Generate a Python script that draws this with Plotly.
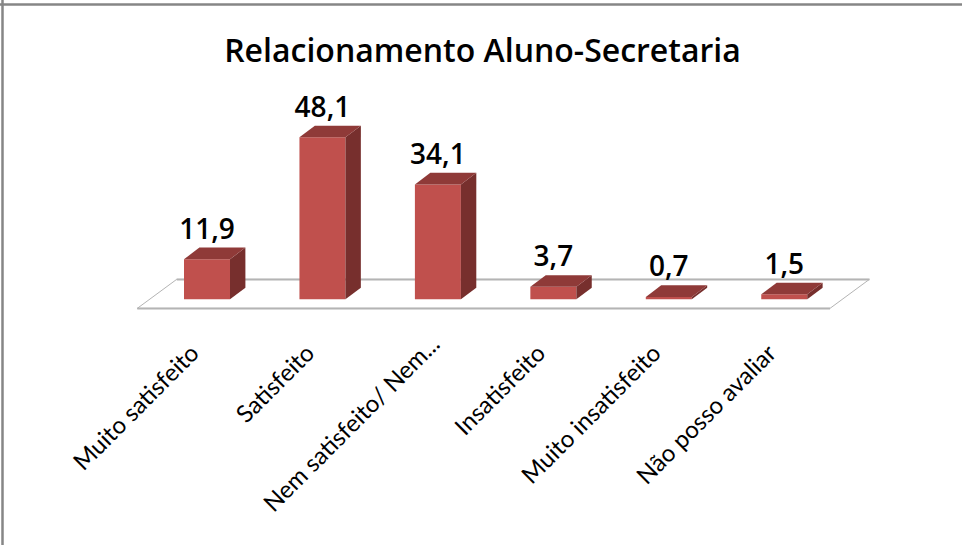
import plotly.graph_objects as go

title = "Relacionamento Aluno-Secretaria"
categories = ["Muito satisfeito", "Satisfeito", "Nem satisfeito/ Nem...", "Insatisfeito", "Muito insatisfeito", "Não posso avaliar"]
values = [11.9, 48.1, 34.1, 3.7, 0.7, 1.5]
labels = ["11,9", "48,1", "34,1", "3,7", "0,7", "1,5"]

W, H = 962, 545
PX_X = 115.45      # pixels per category
PX_Y = 3.368       # pixels per value unit
X0 = 207.0         # pixel of first category
Y0 = 299.3         # pixel of value 0
PLOT_H = 315
BAR_W = 46 / PX_X
DX = 15.4 / PX_X   # bar depth
DY = 11.6 / PX_Y
FRONT = -2.7       # floor front edge, in value units below baseline
FLOOR_DX = 39.4 / PX_X
FLOOR_DY = 29 / PX_Y
FLOOR_L, FLOOR_R = -0.604, 5.396

FRONT_C, TOP_C, SIDE_C = "#C0504D", "#8F3A38", "#772F2D"
GRID_C = "#B4B4B4"
LONG_LABEL = 2     # this label sits closer to the floor in the reference

fig = go.Figure()
xs = list(range(len(categories)))

fig.add_trace(go.Bar(x=xs, y=values, width=BAR_W, marker=dict(color=FRONT_C, line=dict(width=0)),
                     hoverinfo="skip"))

for i, v in zip(xs, values):
    l, r = i - BAR_W / 2, i + BAR_W / 2
    fig.add_trace(go.Scatter(x=[r, r + DX, r + DX, r, r], y=[0, DY, v + DY, v, 0], mode="lines",
                             fill="toself", fillcolor=SIDE_C, line=dict(width=0), hoverinfo="skip"))
    fig.add_trace(go.Scatter(x=[l, l + DX, r + DX, r, l], y=[v, v + DY, v + DY, v, v], mode="lines",
                             fill="toself", fillcolor=TOP_C, line=dict(width=0), hoverinfo="skip"))

fig.add_trace(go.Scatter(x=xs, y=[v + DY + 0.6 for v in values], mode="text", text=labels,
                         textposition="top center", cliponaxis=False,
                         textfont=dict(family="Open Sans", size=28, weight=600, color="#000000"), hoverinfo="skip"))

# invisible trace so the second tick axis is drawn
fig.add_trace(go.Scatter(x=[LONG_LABEL], y=[0], xaxis="x2", mode="markers", marker=dict(opacity=0), hoverinfo="skip"))

bx0, bx1 = FLOOR_L, FLOOR_R
tx0, tx1 = FLOOR_L + FLOOR_DX, FLOOR_R + FLOOR_DX
by, ty = FRONT, FRONT + FLOOR_DY
shapes = [
    dict(type="path", xref="x", yref="y", layer="below",
         path=f"M {bx0} {by} L {tx0} {ty} L {tx1} {ty} L {bx1} {by} Z",
         fillcolor="#FFFFFF", line=dict(color=GRID_C, width=1)),
    dict(type="line", xref="x", yref="y", layer="below", x0=bx0, x1=bx1, y0=by, y1=by,
         line=dict(color=GRID_C, width=2)),
    dict(type="line", xref="x", yref="y", layer="below", x0=tx0, x1=tx1, y0=ty, y1=ty,
         line=dict(color=GRID_C, width=2)),
    # outer frame: top and left edges only
    dict(type="line", xref="paper", yref="y", x0=0, x1=1, y0=(Y0 - 4.5) / PX_Y, y1=(Y0 - 4.5) / PX_Y,
         line=dict(color="#868686", width=2.5)),
    dict(type="line", xref="x", yref="paper", x0=(2.5 - X0) / PX_X, x1=(2.5 - X0) / PX_X,
         y0=1, y1=-(H - PLOT_H) / PLOT_H, line=dict(color="#868686", width=2.5)),
]

x_range = [-X0 / PX_X, (W - X0) / PX_X]
tick_font = dict(family="Lato", size=24, color="#000000")
main_ticks = [i for i in xs if i != LONG_LABEL]

fig.update_layout(
    width=W, height=H, autosize=False, showlegend=False,
    paper_bgcolor="#FFFFFF", plot_bgcolor="#FFFFFF",
    margin=dict(l=0, r=0, t=0, b=H - PLOT_H, pad=0),
    shapes=shapes,
    title=dict(text=title, x=482.5 / W, xanchor="center", xref="paper", y=1 - 51 / H, yanchor="middle", yref="container",
               font=dict(family="Open Sans", size=32, weight=600, color="#000000")),
    xaxis=dict(range=x_range, tickmode="array",
               tickvals=[i - 0.13 for i in main_ticks], ticktext=[categories[i] for i in main_ticks], tickangle=-45,
               ticks="outside", ticklen=13.5, tickcolor="rgba(0,0,0,0)", showgrid=False, zeroline=False, showline=False,
               tickfont=tick_font, automargin=False, fixedrange=True),
    xaxis2=dict(range=x_range, overlaying="x", anchor="y", side="bottom", tickmode="array",
                tickvals=[LONG_LABEL - 0.044], ticktext=[categories[LONG_LABEL]], tickangle=-45,
                ticks="outside", ticklen=4.5, tickcolor="rgba(0,0,0,0)", showgrid=False, zeroline=False, showline=False,
                tickfont=tick_font, automargin=False, fixedrange=True),
    yaxis=dict(range=[(Y0 - PLOT_H) / PX_Y, Y0 / PX_Y], visible=False, fixedrange=True),
)

fig.write_html("out.html", config=dict(displayModeBar=False),
               post_script="document.body.style.margin='0';document.documentElement.style.overflow='hidden';")
